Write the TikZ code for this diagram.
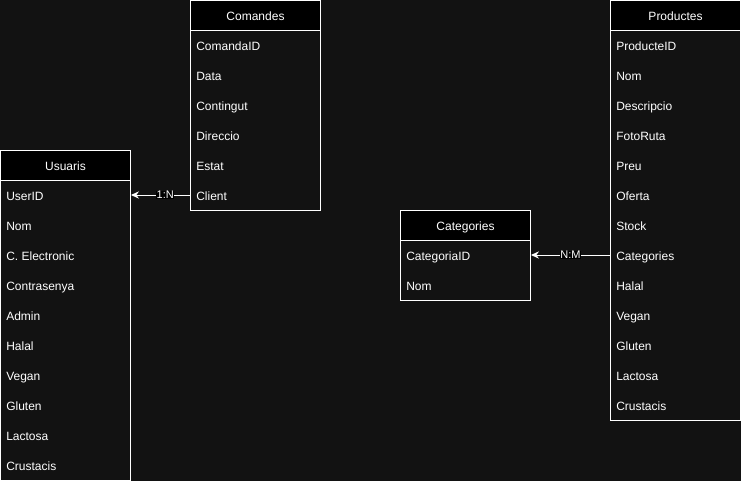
\documentclass[tikz,border=0pt]{standalone}
\usepackage{fontspec}
\setmainfont{Liberation Sans}
\usetikzlibrary{arrows.meta,calc}
\definecolor{bg}{HTML}{121212}
\tikzset{
  px/.style={x=0.75pt,y=-0.75pt},
  hdr/.style={draw=white, fill=black, line width=0.75pt,
    minimum width=97.5pt, minimum height=22.5pt, inner sep=0pt, anchor=north west},
  hdrtxt/.style={text=white, inner sep=0pt, text height=6.5pt, text depth=1.9pt, font=\fontsize{9pt}{10pt}\selectfont},
  tbody/.style={draw=white, fill=bg, line width=0.75pt, minimum width=97.5pt, inner sep=0pt, anchor=north west},
  fld/.style={text=white, anchor=west, inner sep=0pt, text height=6.5pt, text depth=1.9pt, font=\fontsize{9pt}{10pt}\selectfont},
  conn/.style={draw=white, line width=0.75pt, -{Stealth[length=6pt,width=5.5pt,inset=2pt]}},
  lbl/.style={fill=black, text=white, inner sep=0.5pt, font=\fontsize{8.25pt}{9pt}\selectfont},
}
\begin{document}
\begin{tikzpicture}[px]
\fill[bg] (0,0) rectangle (741,481);
\useasboundingbox (0,0) rectangle (741,481);

% Usuaris
\node[tbody, minimum height=225pt] (usB) at (0,180) {};
\node[hdr] (usH) at (0,150) {};
\node[hdrtxt] (usT) at ($(usH.center)+(0,1.5)$) {Usuaris};
\foreach \t [count=\i from 0] in {UserID,Nom,C. Electronic,Contrasenya,Admin,Halal,Vegan,Gluten,Lactosa,Crustacis}
  \node[fld] (us\i) at (6,197+30*\i) {\t};

% Comandes
\node[tbody, minimum height=135pt] (coB) at (190,30) {};
\node[hdr] (coH) at (190,0) {};
\node[hdrtxt] (coT) at ($(coH.center)+(0,1.5)$) {Comandes};
\foreach \t [count=\i from 0] in {ComandaID,Data,Contingut,Direccio,Estat,Client}
  \node[fld] (co\i) at (196,47+30*\i) {\t};

% Categories
\node[tbody, minimum height=45pt] (caB) at (400,240) {};
\node[hdr] (caH) at (400,210) {};
\node[hdrtxt] (caT) at ($(caH.center)+(0,1.5)$) {Categories};
\foreach \t [count=\i from 0] in {CategoriaID,Nom}
  \node[fld] (ca\i) at (406,257+30*\i) {\t};

% Productes
\node[tbody, minimum height=292.5pt] (prB) at (610,30) {};
\node[hdr] (prH) at (610,0) {};
\node[hdrtxt] (prT) at ($(prH.center)+(0,1.5)$) {Productes};
\foreach \t [count=\i from 0] in {ProducteID,Nom,Descripcio,FotoRuta,Preu,Oferta,Stock,Categories,Halal,Vegan,Gluten,Lactosa,Crustacis}
  \node[fld] (pr\i) at (616,47+30*\i) {\t};

% Connectors
\draw[conn] ([yshift=1.5pt]coB.west |- co5) -- node[lbl, pos=0.42] {1:N} ([yshift=1.5pt]usB.east |- us0);
\draw[conn] ([yshift=1.5pt]prB.west |- pr7) -- node[lbl, pos=0.5] {N:M} ([yshift=1.5pt]caB.east |- ca0);
\end{tikzpicture}
\end{document}
